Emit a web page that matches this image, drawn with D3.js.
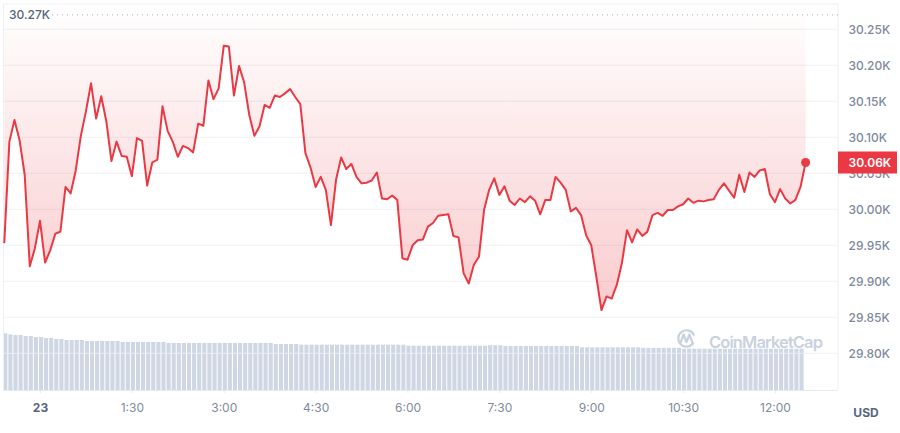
<!DOCTYPE html>
<html>
<head>
<meta charset="utf-8">
<script src="https://cdn.jsdelivr.net/npm/d3@7"></script>
<style>
  html, body { margin: 0; padding: 0; background: #fff; }
  svg { display: block; font-family: Inter, "Noto Sans", sans-serif; }
</style>
</head>
<body>
<svg id="chart" width="900" height="433"></svg>
<script>
// ---- data ----
const startMinute = -35;   // 23:25 on the 22nd, minutes from 00:00 on the 23rd
const stepMinutes = 5;

const prices = [
  29953, 30094, 30124, 30096, 30048, 29921, 29946, 29984, 29926, 29943,
  29966, 29969, 30031, 30022, 30054, 30102, 30136, 30175, 30126, 30157,
  30122, 30067, 30094, 30074, 30073, 30046, 30099, 30095, 30033, 30065,
  30069, 30143, 30109, 30094, 30073, 30088, 30085, 30079, 30119, 30116,
  30179, 30153, 30168, 30227, 30226, 30158, 30199, 30176, 30131, 30102,
  30115, 30145, 30141, 30158, 30156, 30161, 30167, 30156, 30146, 30078,
  30058, 30031, 30045, 30027, 29978, 30041, 30072, 30056, 30063, 30045,
  30036, 30037, 30040, 30051, 30015, 30014, 30019, 30013, 29932,
  29930, 29950, 29957, 29958, 29976, 29981, 29991, 29992, 29993, 29963,
  29961, 29911, 29897, 29923, 29934, 29999, 30027, 30043, 30020, 30032,
  30012, 30006, 30015, 30010, 30018, 30012, 29993, 30013, 30013, 30045,
  30037, 30027, 29997, 30002, 29992, 29964, 29950, 29906, 29860,
  29879, 29876, 29895, 29925, 29971, 29954, 29972, 29963, 29969, 29992,
  29995, 29991, 29999, 29999, 30004, 30007, 30015, 30009, 30012, 30011,
  30013, 30014, 30027, 30036, 30026, 30016, 30048, 30024, 30051, 30045,
  30054, 30056, 30021, 30010, 30028, 30015, 30008, 30013, 30031, 30065
];

// volume in billions USD
const volumes = [
  14.17, 13.9, 13.75, 13.75, 13.5, 13.5, 13.25, 13.25, 13.0, 13.0,
  12.75, 12.75, 12.5, 12.5, 12.5, 12.5, 12.25, 12.25, 12.25, 12.25,
  12.25, 12.25, 12.25, 12.0, 12.0, 12.0, 12.0, 12.0, 12.0, 12.0,
  12.0, 12.0, 11.75, 11.75, 11.75, 11.75, 11.75, 11.75, 11.75, 11.75,
  11.75, 11.75, 11.75, 11.75, 11.75, 11.75, 11.75, 11.75, 11.75, 11.75,
  11.75, 11.75, 11.75, 11.5, 11.5, 11.5, 11.5, 11.5, 11.33, 11.33,
  11.33, 11.33, 11.33, 11.33, 11.33, 11.33, 11.33, 11.33, 11.33, 11.33,
  11.33, 11.33, 11.33, 11.33, 11.33, 11.33, 11.33, 11.33, 11.33, 11.08,
  11.08, 11.08, 11.08, 11.08, 11.08, 11.08, 11.08, 11.08, 11.08, 11.08,
  11.08, 11.08, 11.08, 11.08, 11.08, 11.2, 11.2, 11.2, 11.0, 11.0,
  11.0, 11.0, 11.0, 11.0, 11.0, 11.0, 11.0, 11.0, 11.0, 11.0,
  11.0, 11.0, 11.0, 10.68, 10.68, 10.68, 10.68, 10.68, 10.68, 10.68,
  10.68, 10.68, 10.68, 10.68, 10.68, 10.55, 10.55, 10.55, 10.55, 10.55,
  10.55, 10.55, 10.55, 10.33, 10.33, 10.33, 10.33, 10.33, 10.33, 10.33,
  10.33, 10.33, 10.33, 10.33, 10.33, 10.33, 10.33, 10.33, 10.33, 10.33,
  10.33, 10.33, 10.33, 10.33, 10.33, 10.33, 10.33
];

const yTicks = [29800, 29850, 29900, 29950, 30000, 30050, 30100, 30150, 30200, 30250];
const xTickMinutes = [0, 90, 180, 270, 360, 450, 540, 630, 720];
const xTickLabels = ["23", "1:30", "3:00", "4:30", "6:00", "7:30", "9:00", "10:30", "12:00"];
const highValue = 30270;
const currency = "USD";

// ---- layout ----
const plot = { left: 3.5, right: 838, top: 4, bottom: 390 };
const red = "#ea3943";

const svg = d3.select("#chart");

const x = d3.scaleLinear().domain([0, 720]).range([40, 775]);
const y = d3.scaleLinear().domain([29800, 30250]).range([353.3, 29.3]);
const yVol = d3.scaleLinear().domain([0, 15]).range([plot.bottom, plot.bottom - 60]);

const data = prices.map((p, i) => ({ t: startMinute + i * stepMinutes, p, v: volumes[i] }));

const defs = svg.append("defs");
const grad = defs.append("linearGradient")
  .attr("id", "fillGrad").attr("gradientUnits", "userSpaceOnUse")
  .attr("x1", 0).attr("x2", 0).attr("y1", plot.top).attr("y2", 320);
grad.append("stop").attr("offset", "0%").attr("stop-color", red).attr("stop-opacity", 0.0);
grad.append("stop").attr("offset", "100%").attr("stop-color", red).attr("stop-opacity", 0.27);

defs.append("clipPath").attr("id", "plotClip").append("rect")
  .attr("x", plot.left).attr("y", plot.top)
  .attr("width", plot.right - plot.left).attr("height", plot.bottom - plot.top);

// volume bars
const barW = 4.1;
svg.append("g").attr("clip-path", "url(#plotClip)")
  .selectAll("rect").data(data).join("rect")
  .attr("x", d => x(d.t) - barW / 2 + 1)
  .attr("y", d => yVol(d.v))
  .attr("width", barW)
  .attr("height", d => plot.bottom - yVol(d.v))
  .attr("fill", "#cfd6e4");

// gridlines
svg.append("g").selectAll("line").data(yTicks).join("line")
  .attr("x1", plot.left).attr("x2", plot.right)
  .attr("y1", d => y(d)).attr("y2", d => y(d))
  .attr("stroke", "#eef0f4").attr("stroke-width", 1).attr("opacity", 0.9);

// frame
svg.append("path")
  .attr("d", `M${plot.left},${plot.bottom}V${plot.top}H${plot.right}V${plot.bottom}`)
  .attr("fill", "none").attr("stroke", "#eceff3").attr("stroke-width", 1);
svg.append("line")
  .attr("x1", plot.left).attr("x2", plot.right)
  .attr("y1", plot.bottom + 0.5).attr("y2", plot.bottom + 0.5)
  .attr("stroke", "#e6e9ef");

// area above the line
const area = d3.area()
  .x(d => x(d.t))
  .y0(plot.top)
  .y1(d => y(d.p));
svg.append("path").datum(data)
  .attr("d", area).attr("fill", "url(#fillGrad)");

// watermark
const wm = svg.append("g").attr("fill", "none").attr("stroke", "#cad1de");
wm.append("path")
  .attr("d", d3.arc()({ innerRadius: 8.2, outerRadius: 8.2, startAngle: 2.1, endAngle: 2 * Math.PI + 1.2 }))
  .attr("transform", "translate(686.5,338.5)")
  .attr("stroke-width", 2.2);
wm.append("path")
  .attr("d", "M680.5,343 L683.5,334.5 L686.5,342 L689.5,334.5 L692.5,343")
  .attr("stroke-width", 2.2).attr("stroke-linejoin", "round").attr("stroke-linecap", "round");
svg.append("text")
  .attr("x", 709).attr("y", 348)
  .attr("font-size", 16.5).attr("font-weight", 600)
  .attr("fill", "#cad1de")
  .attr("textLength", 114)
  .text("CoinMarketCap");

// price line
const line = d3.line().x(d => x(d.t)).y(d => y(d.p));
svg.append("path").datum(data)
  .attr("d", line).attr("fill", "none")
  .attr("stroke", red).attr("stroke-width", 2)
  .attr("stroke-linejoin", "round");

const last = data[data.length - 1];
svg.append("circle")
  .attr("cx", x(last.t)).attr("cy", y(last.p)).attr("r", 4.5).attr("fill", red);

// high marker
svg.append("line")
  .attr("x1", 52).attr("x2", plot.right)
  .attr("y1", y(highValue)).attr("y2", y(highValue))
  .attr("stroke", "#a6b0c3").attr("stroke-width", 1).attr("stroke-dasharray", "1,4");
svg.append("rect").attr("x", 5).attr("y", 5).attr("width", 46).attr("height", 19).attr("fill", "#fff");
svg.append("text")
  .attr("x", 9).attr("y", y(highValue)).attr("dy", "0.35em")
  .attr("font-size", 12).attr("font-weight", 500).attr("fill", "#58667e")
  .text(d3.format(".2f")(highValue / 1000) + "K");

// y axis
const fmtK = v => (Math.floor(v / 10) / 100).toFixed(2) + "K";
const yAxis = d3.axisRight(y).tickValues(yTicks).tickSize(0).tickPadding(0).tickFormat(fmtK);
const gy = svg.append("g").attr("transform", `translate(848.5,0)`).call(yAxis);
gy.select(".domain").remove();
gy.selectAll("text").attr("font-size", 12).attr("font-weight", 500)
  .attr("fill", "#808a9d").attr("font-family", "Inter, sans-serif").attr("dy", "0.35em");

// current price label
const ly = y(last.p);
svg.append("rect").attr("x", 838).attr("y", ly - 11).attr("width", 59).attr("height", 22).attr("fill", red);
svg.append("text")
  .attr("x", 848.5).attr("y", ly).attr("dy", "0.35em")
  .attr("font-size", 12).attr("font-weight", 600).attr("fill", "#fff")
  .text(fmtK(last.p));

// x axis
const xAxis = d3.axisBottom(x).tickValues(xTickMinutes).tickSize(3).tickPadding(10)
  .tickFormat((d, i) => xTickLabels[i]);
const gx = svg.append("g").attr("transform", `translate(0,${plot.bottom})`).call(xAxis);
gx.select(".domain").remove();
gx.selectAll(".tick line").attr("stroke", "#e6e9ef");
gx.selectAll("text").attr("font-size", 12).attr("font-family", "Inter, sans-serif")
  .attr("fill", "#808a9d").attr("font-weight", 400);
gx.selectAll("text").filter((d, i) => i === 0).attr("font-weight", 700).attr("fill", "#58667e");

svg.append("text")
  .attr("x", 866).attr("y", 413).attr("dy", "0.35em").attr("text-anchor", "middle")
  .attr("font-size", 12).attr("font-weight", 700).attr("fill", "#58667e")
  .text(currency);
</script>
</body>
</html>
